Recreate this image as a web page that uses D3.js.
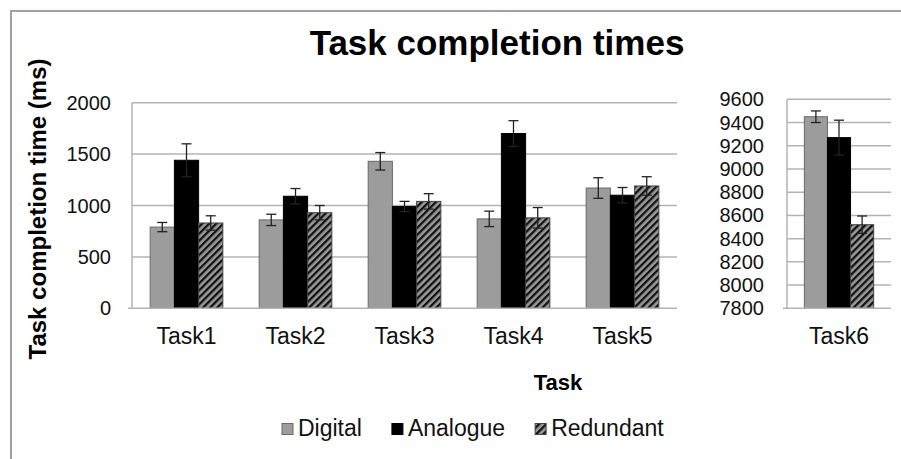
<!DOCTYPE html>
<html>
<head>
<meta charset="utf-8">
<script src="https://cdn.jsdelivr.net/npm/d3@7"></script>
<style>
  html, body { margin: 0; padding: 0; background: #fff; }
  svg { display: block; font-family: "Liberation Sans", Arial, sans-serif; }
</style>
</head>
<body>
<svg id="chart" width="901" height="459"></svg>
<script>
// Categories
const tasksMain = ['Task1', 'Task2', 'Task3', 'Task4', 'Task5'];
const tasksSide = ['Task6'];
const seriesNames = ['Digital', 'Analogue', 'Redundant'];

// Series values (ms) and error bars, Task1..Task6
const digital      = [790, 860, 1430, 870, 1170, 9450];
const digitalErr   = [45, 55, 85, 75, 100, 50];
const analogue     = [1440, 1090, 990, 1700, 1100, 9270];
const analogueErr  = [160, 75, 50, 125, 75, 150];
const redundant    = [830, 930, 1040, 880, 1190, 8520];
const redundantErr = [70, 70, 75, 100, 90, 75];

// Tick labels
const mainTicks = [0, 500, 1000, 1500, 2000];
const sideTicks = [7800, 8000, 8200, 8400, 8600, 8800, 9000, 9200, 9400, 9600];

const seriesValues = { Digital: digital, Analogue: analogue, Redundant: redundant };
const seriesErrors = { Digital: digitalErr, Analogue: analogueErr, Redundant: redundantErr };

const svg = d3.select('#chart');
const gridColor = '#b3b3b3';
const textColor = '#111';

// hatch pattern for Redundant
const defs = svg.append('defs');
const pat = defs.append('pattern')
    .attr('id', 'hatch')
    .attr('patternUnits', 'userSpaceOnUse')
    .attr('width', 5)
    .attr('height', 5)
    .attr('patternTransform', 'rotate(45)');
pat.append('rect').attr('width', 5).attr('height', 5).attr('fill', '#999');
pat.append('rect').attr('width', 2.3).attr('height', 5).attr('fill', '#111');

const fills = { Digital: '#9c9c9c', Analogue: '#000', Redundant: 'url(#hatch)' };
const strokes = { Digital: '#6a6a6a', Analogue: '#000', Redundant: '#444' };

// outer frame
svg.append('rect')
    .attr('x', 11).attr('y', 11)
    .attr('width', 900).attr('height', 460)
    .attr('fill', 'none')
    .attr('stroke', '#a0a0a0')
    .attr('stroke-width', 2);

// Title
svg.append('text')
    .attr('x', 497).attr('y', 55)
    .attr('text-anchor', 'middle')
    .style('font-size', '35px')
    .style('font-weight', 'bold')
    .attr('fill', '#000')
    .text('Task completion times');

// Y axis title
svg.append('text')
    .attr('transform', 'translate(46,209) rotate(-90)')
    .attr('text-anchor', 'middle')
    .style('font-size', '24px')
    .style('font-weight', 'bold')
    .attr('fill', '#000')
    .text('Task completion time (ms)');

// X axis title
svg.append('text')
    .attr('x', 558).attr('y', 390)
    .attr('text-anchor', 'middle')
    .style('font-size', '22px')
    .style('font-weight', 'bold')
    .attr('fill', '#000')
    .text('Task');

function drawPanel(tasks, offset, xRange, yDomain, yRange, ticks, labelX) {
    const x = d3.scaleBand()
        .domain(tasks)
        .range(xRange)
        .paddingInner(1 / 3)
        .paddingOuter(1 / 6);
    const xs = d3.scaleBand()
        .domain(seriesNames)
        .range([0, x.bandwidth()]);
    const y = d3.scaleLinear().domain(yDomain).range(yRange);

    const g = svg.append('g');

    // gridlines
    g.selectAll('.grid')
        .data(ticks.slice(1))
        .enter().append('line')
        .attr('x1', xRange[0]).attr('x2', xRange[1])
        .attr('y1', d => y(d)).attr('y2', d => y(d))
        .attr('stroke', gridColor)
        .attr('stroke-width', 1.5);

    // tick labels
    g.selectAll('.tick-label')
        .data(ticks)
        .enter().append('text')
        .attr('x', labelX)
        .attr('y', d => y(d))
        .attr('dy', '0.35em')
        .attr('text-anchor', 'end')
        .style('font-size', '20px')
        .attr('fill', textColor)
        .text(d => d);

    // bars
    const rows = [];
    tasks.forEach((t, i) => {
        seriesNames.forEach(s => {
            rows.push({
                task: t,
                series: s,
                value: seriesValues[s][i + offset],
                err: seriesErrors[s][i + offset]
            });
        });
    });

    g.selectAll('.bar')
        .data(rows)
        .enter().append('rect')
        .attr('x', d => x(d.task) + xs(d.series))
        .attr('y', d => y(d.value))
        .attr('width', xs.bandwidth())
        .attr('height', d => y(yDomain[0]) - y(d.value))
        .attr('fill', d => fills[d.series])
        .attr('stroke', d => strokes[d.series])
        .attr('stroke-width', 1);

    // axes lines
    g.append('line')
        .attr('x1', xRange[0] - 4).attr('x2', xRange[1])
        .attr('y1', y(yDomain[0])).attr('y2', y(yDomain[0]))
        .attr('stroke', gridColor).attr('stroke-width', 1.5);
    g.append('line')
        .attr('x1', xRange[0]).attr('x2', xRange[0])
        .attr('y1', y(yDomain[0])).attr('y2', y(yDomain[1]))
        .attr('stroke', gridColor).attr('stroke-width', 1.5);

    // error bars
    const eb = g.selectAll('.err')
        .data(rows)
        .enter().append('g')
        .attr('transform', d => `translate(${x(d.task) + xs(d.series) + xs.bandwidth() / 2},0)`);
    eb.append('line')
        .attr('y1', d => y(d.value - d.err)).attr('y2', d => y(d.value + d.err))
        .attr('stroke', '#222').attr('stroke-width', 1.3);
    eb.append('line')
        .attr('x1', -5).attr('x2', 5)
        .attr('y1', d => y(d.value + d.err)).attr('y2', d => y(d.value + d.err))
        .attr('stroke', '#222').attr('stroke-width', 1.3);
    eb.append('line')
        .attr('x1', -5).attr('x2', 5)
        .attr('y1', d => y(d.value - d.err)).attr('y2', d => y(d.value - d.err))
        .attr('stroke', '#222').attr('stroke-width', 1.3);

    // category labels
    g.selectAll('.cat')
        .data(tasks)
        .enter().append('text')
        .attr('x', d => x(d) + x.bandwidth() / 2)
        .attr('y', 344)
        .attr('text-anchor', 'middle')
        .style('font-size', '23px')
        .attr('fill', textColor)
        .text(d => d);
}

drawPanel(tasksMain, 0, [132, 677], [0, 2000], [308.3, 102.7], mainTicks, 111);
drawPanel(tasksSide, tasksMain.length, [787, 891], [7800, 9600], [308.3, 99.3], sideTicks, 764);

// Legend
const legend = svg.append('g');
let lx = 282;
seriesNames.forEach(s => {
    legend.append('rect')
        .attr('x', lx).attr('y', 423.5)
        .attr('width', 11).attr('height', 11)
        .attr('fill', fills[s])
        .attr('stroke', strokes[s])
        .attr('stroke-width', 1);
    const t = legend.append('text')
        .attr('x', lx + 16).attr('y', 436)
        .style('font-size', '23px')
        .attr('fill', textColor)
        .text(s);
    lx += 16 + t.node().getComputedTextLength() + 30;
});
</script>
</body>
</html>
